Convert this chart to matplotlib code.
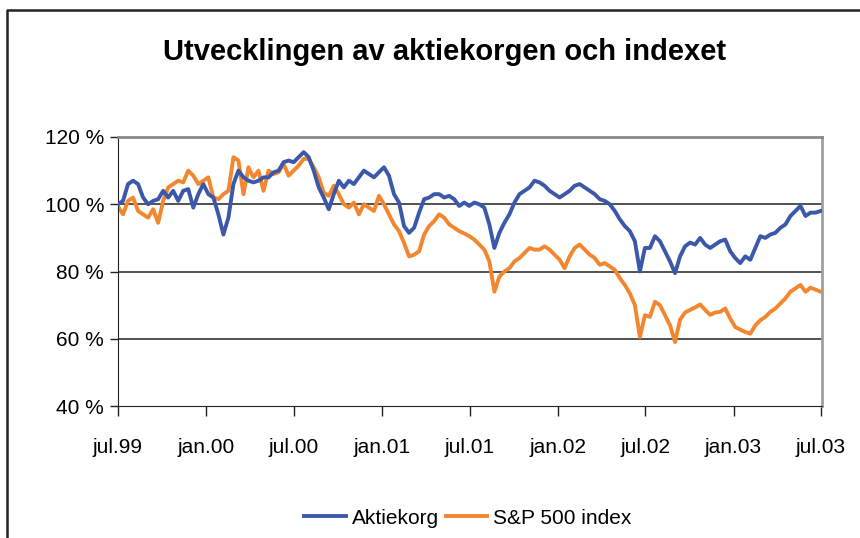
import matplotlib
matplotlib.use("Agg")
import matplotlib.pyplot as plt
import matplotlib.dates as mdates
from matplotlib.lines import Line2D
from matplotlib.ticker import FixedLocator
import pandas as pd

plt.rcParams['font.family'] = ['Liberation Sans Narrow', 'Liberation Sans', 'DejaVu Sans']

# values, roughly every 10 days from jul.99 to jul.03
aktiekorg = [
    100, 101, 106, 107, 106, 102, 100, 101, 101.5, 104,
    102, 104, 101, 104, 104.5, 99, 103, 106, 103, 102,
    97, 91, 96, 106, 110, 108, 107, 106.5, 107, 108,
    108, 109.5, 110, 112.5, 113, 112.5, 114, 115.5, 114, 110,
    105, 102, 98.5, 103, 107, 105, 107, 106, 108, 110,
    109, 108, 109.5, 111, 108.5, 103, 100.5, 93.5, 91.5, 93,
    97.5, 101.5, 102, 103, 103, 102, 102.5, 101.5, 99.5, 100.5,
    99.5, 100.5, 100, 99, 94, 87, 91.5, 94.5, 97, 100.5,
    103, 104, 105, 107, 106.5, 105.5, 104, 103, 102, 103,
    104, 105.5, 106, 105, 104, 103, 101.5, 101, 100, 98,
    95.5, 93.5, 92, 89, 80, 87, 87, 90.5, 89, 86,
    83, 79.5, 84.5, 87.5, 88.6, 88, 90, 88, 87, 88,
    89, 89.5, 86, 84, 82.5, 84.5, 83.5, 87, 90.5, 90,
    91, 91.5, 93, 94, 96.5, 98, 99.5, 96.5, 97.5, 97.5,
    98,
]
sp500 = [
    99.4, 97, 101, 102, 98, 97, 96, 98.5, 94.5, 101,
    105, 106, 107, 106.5, 110, 108.5, 106, 107, 108, 102,
    101.5, 103, 104, 114, 113, 103, 111, 108, 110, 104,
    110, 109, 109.5, 112, 108.5, 110, 111.5, 113.5, 113.5, 111,
    108, 103.5, 102.5, 105.5, 103, 100, 99, 100.5, 97, 100,
    99, 98, 102.5, 100, 97, 94, 92, 88.5, 84.5, 85,
    86, 91, 93.5, 95, 97, 96, 94, 93, 92, 91.3,
    90.5, 89.5, 88, 86.5, 83, 74, 78.5, 80, 81, 83,
    84, 85.5, 87, 86.5, 86.5, 87.5, 86.5, 85, 83.5, 81,
    84.5, 87, 88, 86.5, 85, 84, 82, 82.5, 81.5, 80.5,
    78, 76, 73.5, 70, 60.5, 67, 66.5, 71, 70, 67,
    64, 59, 65.7, 67.8, 68.6, 69.3, 70.2, 68.6, 67.1, 67.8,
    68, 69, 66, 63.5, 62.7, 62, 61.5, 64, 65.5, 66.5,
    68, 69, 70.5, 72, 74, 75, 76, 74, 75.2, 74.6,
    74,
]
dates = pd.date_range("1999-07-01", "2003-07-01", periods=len(aktiekorg))

tick_dates = pd.to_datetime(["1999-07-01", "2000-01-01", "2000-07-01", "2001-01-01",
                             "2001-07-01", "2002-01-01", "2002-07-01", "2003-01-01",
                             "2003-07-01"])
tick_labels = ["jul.99", "jan.00", "jul.00", "jan.01", "jul.01",
               "jan.02", "jul.02", "jan.03", "jul.03"]
y_ticks = [40, 60, 80, 100, 120]

blue = "#3B59A8"
orange = "#F2872F"

fig = plt.figure(figsize=(8.6, 5.38), dpi=100)
ax = fig.add_axes([118 / 860, 1 - 406 / 538, (822 - 118) / 860, (406 - 137) / 538])

ax.plot(dates, aktiekorg, color=blue, lw=2.8, label="Aktiekorg", zorder=3)
ax.plot(dates, sp500, color=orange, lw=2.8, label="S&P 500 index", zorder=2)

ax.set_ylim(40, 120)
ax.set_xlim(tick_dates[0], tick_dates[-1] + pd.Timedelta(days=3))
ax.set_yticks(y_ticks)
ax.set_yticklabels([f"{v} %" for v in y_ticks], fontsize=15)
ax.xaxis.set_major_locator(FixedLocator(mdates.date2num(tick_dates)))
ax.set_xticklabels(tick_labels, fontsize=15)
ax.tick_params(axis="x", direction="out", length=7, width=1, pad=16, colors="#222222")
ax.tick_params(axis="y", direction="out", length=6, width=1, pad=4, colors="#222222")
for lab in ax.get_xticklabels() + ax.get_yticklabels():
    lab.set_color("black")

for v in [60, 80, 100]:
    ax.axhline(v, color="#222222", lw=1.1, zorder=1)

ax.spines["left"].set_color("#222222")
ax.spines["bottom"].set_color("#222222")
ax.spines["top"].set_color("#8a8a8a")
ax.spines["right"].set_color("#a0a0a0")
ax.spines["top"].set_linewidth(2)
ax.spines["right"].set_linewidth(2)

fig.text(445 / 860, 1 - 52 / 538, "Utvecklingen av aktiekorgen och indexet",
         ha="center", va="center", fontsize=21, fontweight="bold")

fig.legend(loc="center", bbox_to_anchor=(468 / 860, 1 - 518 / 538), ncol=2,
           frameon=False, fontsize=15, handlelength=2.0, handletextpad=0.3,
           columnspacing=0.3)

# outer frame (left and top edges visible)
fig.add_artist(Line2D([7 / 860, 7 / 860, 1.0], [0, 1 - 10 / 538, 1 - 10 / 538],
                      transform=fig.transFigure, color="#222222", lw=1.8))

fig.savefig("out.png", dpi=100)
